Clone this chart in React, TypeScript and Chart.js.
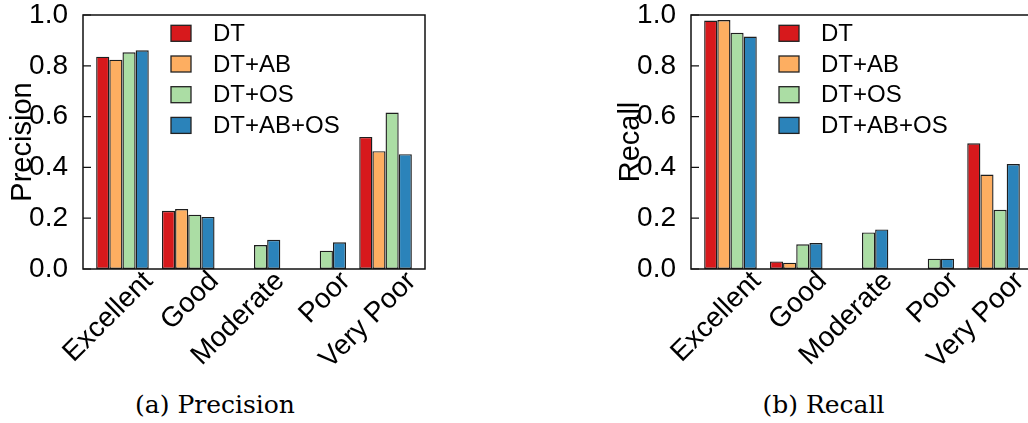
import React, { useEffect, useRef } from "react";
import { Chart, registerables } from "chart.js";

Chart.register(...registerables);

const categories = ["Excellent", "Good", "Moderate", "Poor", "Very Poor"];
const seriesNames = ["DT", "DT+AB", "DT+OS", "DT+AB+OS"];
const seriesColors = ["#d7191c", "#fdae61", "#abdda4", "#2b83ba"];
const yTicks = [0, 0.2, 0.4, 0.6, 0.8, 1.0];

const precisionDT = [0.836, 0.229, 0, 0, 0.52];
const precisionDTAB = [0.824, 0.236, 0, 0, 0.464];
const precisionDTOS = [0.853, 0.214, 0.094, 0.072, 0.616];
const precisionDTABOS = [0.861, 0.205, 0.115, 0.105, 0.452];

const recallDT = [0.978, 0.03, 0, 0, 0.495];
const recallDTAB = [0.98, 0.025, 0, 0, 0.372];
const recallDTOS = [0.93, 0.097, 0.144, 0.0405, 0.233];
const recallDTABOS = [0.915, 0.102, 0.156, 0.0405, 0.413];

const SANS = '"Liberation Sans", Arial, sans-serif';

const framePlugin = {
  id: "frameAndLegend",
  afterDatasetsDraw(chart: any) {
    const { ctx, chartArea } = chart;
    const yScale = chart.scales.y;
    ctx.save();
    ctx.strokeStyle = "#111";
    ctx.lineWidth = 1.5;
    ctx.strokeRect(chartArea.left, chartArea.top, chartArea.right - chartArea.left, chartArea.bottom - chartArea.top);
    ctx.lineWidth = 1.2;
    ctx.beginPath();
    yTicks.forEach((v) => {
      const y = yScale.getPixelForValue(v);
      ctx.moveTo(chartArea.left, y);
      ctx.lineTo(chartArea.left + 8, y);
    });
    ctx.stroke();
    // inside legend
    chart.data.datasets.forEach((ds: any, i: number) => {
      const cy = chartArea.top + 18.3 + i * 30.7;
      const bx = chartArea.left + 88;
      ctx.fillStyle = ds.backgroundColor;
      ctx.fillRect(bx, cy - 8, 20, 16);
      ctx.strokeStyle = "#222";
      ctx.lineWidth = 1.3;
      ctx.strokeRect(bx, cy - 8, 20, 16);
      ctx.fillStyle = "#000";
      ctx.font = `24px ${SANS}`;
      ctx.textBaseline = "middle";
      ctx.textAlign = "left";
      ctx.fillText(ds.label, chartArea.left + 130, cy + 1);
    });
    ctx.restore();
  },
};

function BarPanel({ yTitle, series }: { yTitle: string; series: number[][] }) {
  const ref = useRef<HTMLCanvasElement>(null);
  useEffect(() => {
    if (!ref.current) return;
    const chart = new Chart(ref.current, {
      type: "bar",
      data: {
        datasets: series.map((vals, i) => ({
          label: seriesNames[i],
          data: vals.map((v, j) => ({ x: j, y: v })),
          backgroundColor: seriesColors[i],
          borderColor: "#1e1e1e",
          borderWidth: 1.4,
          borderSkipped: false,
          categoryPercentage: 0.8,
          barPercentage: 1.0,
        })),
      },
      options: {
        responsive: false,
        animation: false,
        devicePixelRatio: 1,
        layout: { padding: { left: 0, top: 15, right: 89, bottom: 0 } },
        plugins: { legend: { display: false }, tooltip: { enabled: false } },
        scales: {
          x: {
            type: "linear",
            min: -0.6,
            max: 4.6,
            offset: false,
            grid: { display: false },
            border: { display: false },
            afterBuildTicks: (axis: any) => {
              axis.ticks = categories.map((_, i) => ({ value: i }));
            },
            afterFit: (axis: any) => {
              axis.height = 111;
              axis.paddingLeft = 0;
              axis.paddingRight = 0;
              axis.paddingTop = 0;
              axis.paddingBottom = 0;
            },
            ticks: {
              autoSkip: false,
              minRotation: 45,
              maxRotation: 45,
              padding: -12,
              labelOffset: 26,
              color: "#000",
              font: { family: SANS, size: 28 },
              callback: (v: any) => categories[Math.round(Number(v))] ?? "",
            },
          },
          y: {
            min: 0,
            max: 1,
            grid: { display: false },
            border: { display: false },
            afterFit: (axis: any) => {
              axis.width = 83;
              axis.paddingLeft = 0;
              axis.paddingRight = 0;
              axis.paddingTop = 0;
              axis.paddingBottom = 0;
            },
            afterBuildTicks: (axis: any) => {
              axis.ticks = yTicks.map((v) => ({ value: v }));
            },
            ticks: {
              padding: 7,
              color: "#000",
              font: { family: SANS, size: 28 },
              callback: (v: any) => Number(v).toFixed(1),
            },
            title: {
              display: true,
              text: yTitle,
              color: "#000",
              font: { family: SANS, size: 29 },
              padding: { top: 6, bottom: 0 },
            },
          },
        },
      },
      plugins: [framePlugin],
    } as any);
    return () => chart.destroy();
  }, []);
  return <canvas ref={ref} width={514} height={380} style={{ display: "block" }} />;
}

const captionStyle: React.CSSProperties = {
  position: "absolute",
  top: 392,
  width: 300,
  textAlign: "center",
  fontFamily: '"DejaVu Serif", serif',
  fontSize: 25,
  lineHeight: "25px",
  color: "#000",
};

export default function App() {
  return (
    <div style={{ position: "relative", width: 1028, height: 423, overflow: "hidden", background: "#fff" }}>
      <style>{"html,body{margin:0;padding:0;overflow:hidden;background:#fff}"}</style>
      <div style={{ position: "absolute", left: 0, top: 0 }}>
        <BarPanel yTitle="Precision" series={[precisionDT, precisionDTAB, precisionDTOS, precisionDTABOS]} />
      </div>
      <div style={{ position: "absolute", left: 608, top: 0 }}>
        <BarPanel yTitle="Recall" series={[recallDT, recallDTAB, recallDTOS, recallDTABOS]} />
      </div>
      <div style={{ ...captionStyle, left: 215 - 150 }}>(a) Precision</div>
      <div style={{ ...captionStyle, left: 823.5 - 150 }}>(b) Recall</div>
    </div>
  );
}
